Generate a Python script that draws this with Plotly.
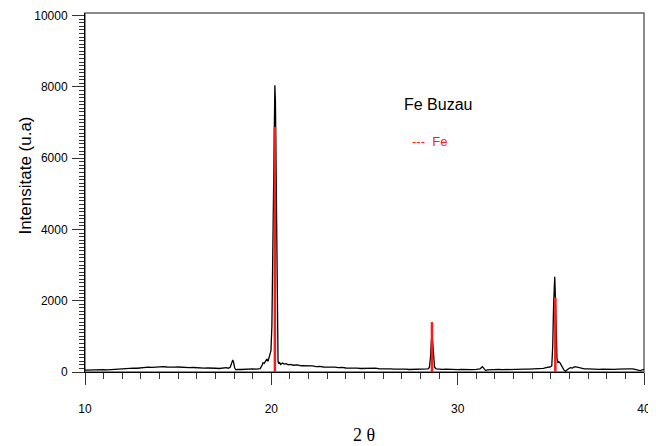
import plotly.graph_objects as go

# Measured XRD pattern (Fe Buzau)
two_theta = [10.0, 10.2, 10.4, 10.6, 10.8, 11.0, 11.2, 11.4, 11.6, 11.8, 12.0, 12.2, 12.4, 12.6, 12.8,
             13.0, 13.2, 13.4, 13.6, 13.8, 14.0, 14.2, 14.4, 14.6, 14.8, 15.0, 15.2, 15.4, 15.6, 15.8,
             16.0, 16.2, 16.4, 16.6, 16.8, 17.0, 17.2, 17.4, 17.6, 17.7, 17.8, 17.87, 17.93, 17.98, 18.03,
             18.1, 18.2, 18.4, 18.6, 18.8, 19.0, 19.2, 19.4, 19.5, 19.55, 19.62, 19.7, 19.76, 19.82, 19.88,
             19.94, 19.98, 20.03, 20.08, 20.12, 20.16, 20.19, 20.22, 20.26, 20.29, 20.32, 20.36, 20.4, 20.45,
             20.5, 20.6, 20.7, 20.8, 20.9, 21.0, 21.2, 21.4, 21.6, 21.8, 22.0, 22.2, 22.4, 22.6, 22.8,
             23.0, 23.2, 23.4, 23.6, 23.8, 24.0, 24.2, 24.4, 24.6, 24.8, 25.0, 25.2, 25.4, 25.6, 25.8,
             26.0, 26.2, 26.4, 26.6, 26.8, 27.0, 27.2, 27.4, 27.6, 27.8, 28.0, 28.2, 28.4, 28.48, 28.54,
             28.58, 28.62, 28.66, 28.70, 28.76, 28.85, 29.0, 29.2, 29.4, 29.6, 29.8, 30.0, 30.2, 30.4, 30.6,
             30.8, 31.0, 31.2, 31.33, 31.42, 31.5, 31.6, 31.8, 32.0, 32.2, 32.4, 32.6, 32.8, 33.0, 33.2,
             33.4, 33.6, 33.8, 34.0, 34.2, 34.4, 34.6, 34.8, 34.95, 35.05, 35.10, 35.15, 35.21, 35.25, 35.29,
             35.33, 35.38, 35.43, 35.5, 35.6, 35.7, 35.78, 35.85, 35.95, 36.05, 36.15, 36.3, 36.45, 36.6,
             36.8, 37.0, 37.2, 37.4, 37.6, 37.8, 38.0, 38.2, 38.4, 38.6, 38.8, 39.0, 39.2, 39.4, 39.6,
             39.8, 40.0]
intensity = [55, 60, 50, 62, 58, 65, 60, 70, 66, 80, 85, 95, 100, 110, 105,
             120, 128, 135, 130, 142, 138, 150, 140, 148, 135, 140, 128, 132, 120, 126,
             115, 118, 108, 112, 100, 105, 98, 110, 125, 105, 140, 250, 340, 260, 120,
             60, 75, 70, 80, 78, 85, 82, 95, 180, 260, 240, 330, 360, 300, 420,
             480, 600, 1300, 3200, 5800, 7700, 8050, 7600, 5200, 2500, 900, 300, 230, 260,
             210, 250, 220, 235, 200, 215, 190, 200, 175, 180, 165, 170, 150, 158, 140,
             145, 130, 135, 120, 128, 112, 118, 105, 110, 98, 102, 92, 96, 110, 85,
             90, 80, 86, 78, 82, 72, 78, 70, 76, 68, 74, 80, 90, 120, 400,
             800, 1080, 820, 400, 130, 90, 80, 72, 78, 70, 75, 68, 74, 66, 72,
             68, 75, 90, 150, 90, 40, 60, 70, 66, 72, 64, 70, 76, 70, 80,
             74, 82, 78, 85, 80, 88, 100, 130, 140, 170, 700, 1900, 2670, 2000, 900,
             380, 260, 290, 250, 150, 60, 20, 60, 90, 120, 110, 150, 130, 120,
             90, 85, 78, 82, 76, 80, 72, 78, 74, 80, 88, 95, 90, 85, 70,
             40, 75]

# Fe reference lines
fe_2theta = [20.19, 28.62, 35.24]
fe_intensity = [6880, 1400, 2090]

x_major_ticks = [10, 20, 30, 40]
x_tick_labels = ["10", "20", "30", "40"]
x_mid_ticks = [15, 25, 35]
y_major_ticks = [0, 2000, 4000, 6000, 8000, 10000]
y_tick_labels = ["0", "2000", "4000", "6000", "8000", "10000"]
y_mid_ticks = list(range(0, 10001, 500))

FONT = "Arial, Liberation Sans, sans-serif"

stick_x, stick_y = [], []
for p, h in zip(fe_2theta, fe_intensity):
    stick_x += [p, p, None]
    stick_y += [0, h, None]

fig = go.Figure()
fig.add_trace(go.Scatter(x=two_theta, y=intensity, mode="lines",
                         line=dict(color="black", width=1.3), showlegend=False, hoverinfo="skip"))
fig.add_trace(go.Scatter(x=stick_x, y=stick_y, mode="lines",
                         line=dict(color="#ff1a1a", width=2.5), showlegend=False, hoverinfo="skip"))

tickcol = "#333333"
fig.update_layout(
    width=648, height=438,
    margin=dict(l=77, r=12, t=5, b=74, autoexpand=False),
    paper_bgcolor="white", plot_bgcolor="white",
    font=dict(family=FONT, size=12, color="black"),
    xaxis=dict(range=[10, 40], tickmode="array", tickvals=x_major_ticks, ticktext=x_tick_labels,
               ticks="outside", ticklen=12, automargin=False,
               tickcolor=tickcol, tickwidth=1, showline=True, linecolor="black", linewidth=1,
               showgrid=False, zeroline=False, ticklabelstandoff=14,
               tickfont=dict(size=12, family=FONT),
               minor=dict(tick0=10, dtick=1, ticks="outside", ticklen=6, tickcolor=tickcol)),
    xaxis2=dict(range=[10, 40], overlaying="x", anchor="y", side="bottom", tickvals=x_mid_ticks,
                ticks="outside", ticklen=9, tickcolor=tickcol, showticklabels=False, automargin=False,
                showline=False, showgrid=False, zeroline=False),
    yaxis=dict(range=[0, 10075], tickmode="array", tickvals=y_major_ticks, ticktext=y_tick_labels,
               ticks="outside", ticklen=12, automargin=False,
               tickcolor=tickcol, showline=True, linecolor="black", linewidth=1,
               showgrid=False, zeroline=False, ticklabelstandoff=2,
               tickfont=dict(size=12, family=FONT),
               minor=dict(tick0=0, dtick=100, ticks="outside", ticklen=5, tickcolor=tickcol)),
    yaxis2=dict(range=[0, 10075], overlaying="y", anchor="x", side="left", tickvals=y_mid_ticks,
                ticks="outside", ticklen=8, tickcolor=tickcol, showticklabels=False, automargin=False,
                showline=False, showgrid=False, zeroline=False),
    shapes=[dict(type="rect", xref="paper", yref="paper", x0=0, x1=1, y0=0, y1=1,
                 line=dict(color="#666666", width=1.5), layer="below")],
    annotations=[
        dict(text="Fe Buzau", xref="paper", yref="paper", x=0.567, y=0.744,
             xanchor="left", yanchor="middle", showarrow=False,
             font=dict(family=FONT, size=16, color="black")),
        dict(text="---  Fe", xref="paper", yref="paper", x=0.582, y=0.6415,
             xanchor="left", yanchor="middle", showarrow=False,
             font=dict(family=FONT, size=13, color="#ff1a1a")),
        dict(text="Intensitate (u.a)", xref="paper", yref="paper", x=-0.1056, y=0.547,
             xanchor="center", yanchor="middle", textangle=-90, showarrow=False,
             font=dict(family=FONT, size=17, color="black")),
        dict(text="2 θ", xref="paper", yref="paper", x=0.4985, y=-0.1755,
             xanchor="center", yanchor="middle", showarrow=False,
             font=dict(family="Times New Roman, Liberation Serif, serif", size=18, color="black")),
    ],
)

fig.write_html("out.html")
